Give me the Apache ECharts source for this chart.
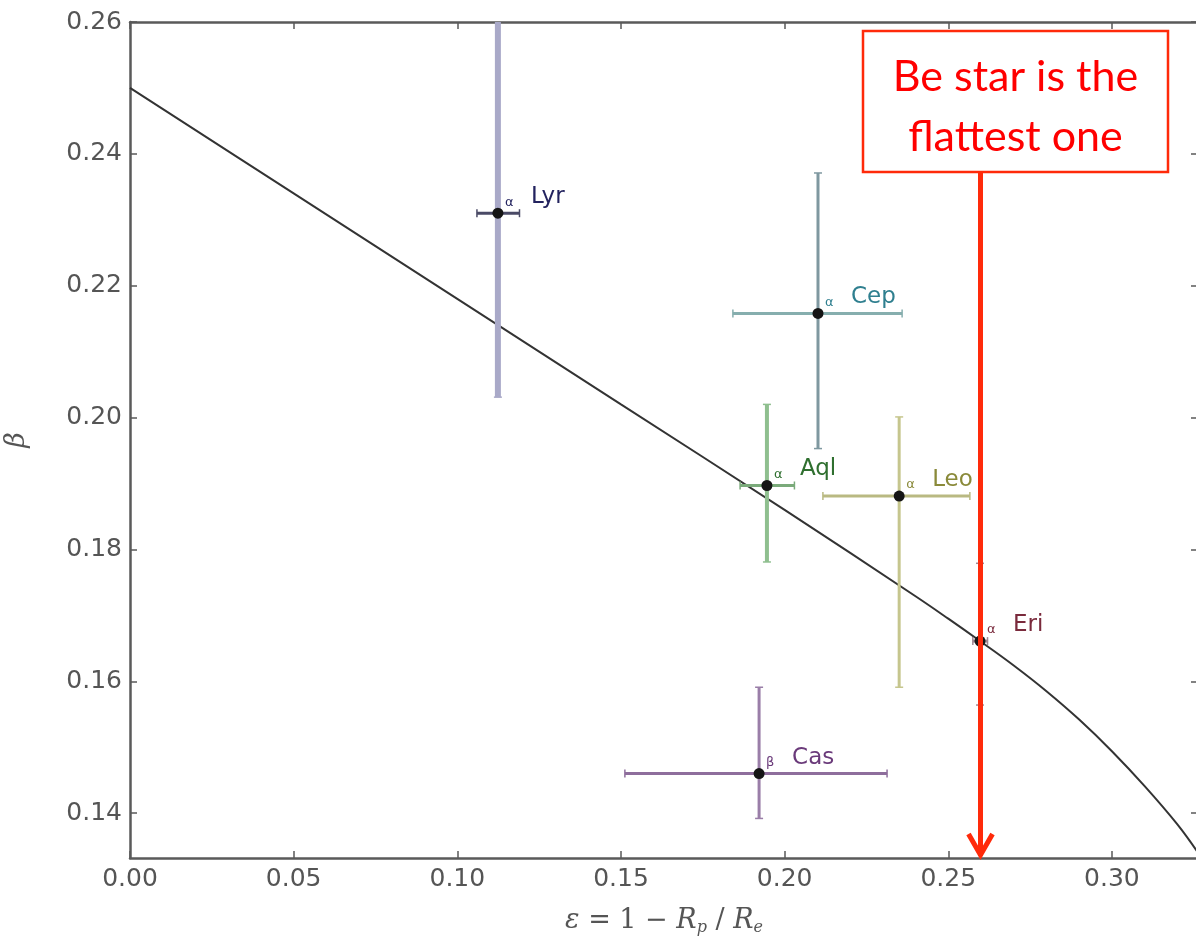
<!DOCTYPE html>
<html>
<head>
<meta charset="utf-8">
<script src="https://cdn.jsdelivr.net/npm/echarts@6/dist/echarts.min.js"></script>
<style>
  html, body { margin: 0; padding: 0; background: #fff; }
  #chart { width: 1196px; height: 940px; }
</style>
</head>
<body>
<div id="chart"></div>
<script>
// Gravity-darkening exponent β against flattening ε for interferometrically resolved rapid rotators
const stars    = ['Lyr', 'Cep', 'Aql', 'Leo', 'Eri', 'Cas'];
const greek    = ['α', 'α', 'α', 'α', 'α', 'β'];
const eps      = [0.1124, 0.2102, 0.1946, 0.2350, 0.2597, 0.1922];
const beta     = [0.2310, 0.2158, 0.1897, 0.1881, 0.1661, 0.1460];
const epsLow   = [0.1060, 0.1842, 0.1864, 0.2117, 0.2575, 0.1512];
const epsHigh  = [0.1190, 0.2359, 0.2030, 0.2566, 0.2620, 0.2313];
const betaLow  = [0.2031, 0.1953, 0.1781, 0.1591, 0.1564, 0.1392];
const betaHigh = [0.2650, 0.2371, 0.2020, 0.2001, 0.1779, 0.1591];

// Theoretical β(ε) relation
const curveEps  = [0.000, 0.050, 0.100, 0.150, 0.200, 0.240, 0.250, 0.260, 0.270, 0.280, 0.290, 0.300, 0.310, 0.320, 0.3263];
const curveBeta = [0.2500, 0.2340, 0.2180, 0.2020, 0.1860, 0.1729, 0.1695, 0.1660, 0.1624, 0.1585, 0.1542, 0.1494, 0.1441, 0.1383, 0.1340];

const xTicks = [0.00, 0.05, 0.10, 0.15, 0.20, 0.25, 0.30];
const yTicks = [0.14, 0.16, 0.18, 0.20, 0.22, 0.24, 0.26];

const calloutLines = ['Be star is the', 'flattest one'];
const calloutStar = 'Eri';

const X_MIN = 0, X_MAX = 0.3263, Y_MIN = 0.1332, Y_MAX = 0.26;

const vBarColor = ['#a9a9c8', '#7f98a0', '#8fbf8f', '#c6c68e', '#a08893', '#9a7ea8'];
const hBarColor = ['#4a4a66', '#86aeae', '#7aaa7a', '#b9b982', '#a08893', '#8e6e9c'];
const vBarWidth = [6, 3, 4, 3, 3, 3];
const labelColor = ['#23235f', '#2f7f8f', '#2f6f2f', '#8a8a3a', '#7a2a3c', '#6a3a7a'];

const axisColor = '#5a5a5a';
const tickFont = { fontFamily: 'DejaVu Sans', fontSize: 25, color: '#555' };

const chart = echarts.init(document.getElementById('chart'), null, { renderer: 'canvas' });

function frameAxis(kind, position, ticks, showLabels, extra) {
  const isX = kind === 'x';
  return Object.assign({
    type: 'value',
    position: position,
    min: isX ? X_MIN : Y_MIN,
    max: isX ? X_MAX : Y_MAX,
    axisLine: { show: true, onZero: false, lineStyle: { color: axisColor, width: 2.5 } },
    axisTick: { show: true, inside: true, length: 7, customValues: ticks,
                lineStyle: { color: axisColor, width: 1.5 } },
    axisLabel: { show: showLabels, customValues: ticks, margin: isX ? 9 : 8,
                 formatter: v => v.toFixed(2), ...tickFont },
    splitLine: { show: false }
  }, extra || {});
}

const serifRich = {
  i: { fontFamily: 'DejaVu Serif', fontStyle: 'italic', fontSize: 27, color: '#555' },
  n: { fontFamily: 'DejaVu Serif', fontSize: 27, color: '#555' },
  s: { fontFamily: 'DejaVu Serif', fontStyle: 'italic', fontSize: 16, color: '#555',
       padding: [14, 0, 0, 0] }
};

const starData = stars.map((s, i) => [eps[i], beta[i], epsLow[i], epsHigh[i], betaLow[i], betaHigh[i], i]);

function renderStar(params, api) {
  const i = api.value(6);
  const c  = api.coord([api.value(0), api.value(1)]);
  const xl = api.coord([api.value(2), api.value(1)]);
  const xh = api.coord([api.value(3), api.value(1)]);
  const yl = api.coord([api.value(0), api.value(4)]);
  const yh = api.coord([api.value(0), api.value(5)]);
  const cap = 4;
  const vStyle = { stroke: vBarColor[i], lineWidth: vBarWidth[i] };
  const hStyle = { stroke: hBarColor[i], lineWidth: 3 };
  const capV = { stroke: vBarColor[i], lineWidth: 1.5 };
  const capH = { stroke: hBarColor[i], lineWidth: 1.5 };
  return {
    type: 'group',
    children: [
      { type: 'line', shape: { x1: c[0], y1: yl[1], x2: c[0], y2: yh[1] }, style: vStyle },
      { type: 'line', shape: { x1: c[0] - cap, y1: yl[1], x2: c[0] + cap, y2: yl[1] }, style: capV },
      { type: 'line', shape: { x1: c[0] - cap, y1: yh[1], x2: c[0] + cap, y2: yh[1] }, style: capV },
      { type: 'line', shape: { x1: xl[0], y1: c[1], x2: xh[0], y2: c[1] }, style: hStyle },
      { type: 'line', shape: { x1: xl[0], y1: c[1] - cap, x2: xl[0], y2: c[1] + cap }, style: capH },
      { type: 'line', shape: { x1: xh[0], y1: c[1] - cap, x2: xh[0], y2: c[1] + cap }, style: capH },
      { type: 'circle', shape: { cx: c[0], cy: c[1], r: 5.5 }, style: { fill: '#151515' } },
      { type: 'text', x: c[0] + 7, y: c[1] - 11,
        style: { text: greek[i], fontFamily: 'DejaVu Sans', fontSize: 13, fill: labelColor[i],
                 align: 'left', verticalAlign: 'middle' } },
      { type: 'text', x: c[0] + 33, y: c[1] - 16,
        style: { text: stars[i], fontFamily: 'DejaVu Sans', fontSize: 23, fill: labelColor[i],
                 align: 'left', verticalAlign: 'middle' } }
    ]
  };
}

chart.setOption({
  animation: false,
  backgroundColor: '#ffffff',
  grid: { left: 130, top: 22, right: -2, bottom: 82, containLabel: false, outerBoundsMode: 'none' },
  xAxis: [
    frameAxis('x', 'bottom', xTicks, true, {
      name: '{i|ε}{n| = 1 − }{i|R}{s|p}{n| / }{i|R}{s|e}',
      nameLocation: 'middle', nameGap: 48,
      nameTextStyle: { rich: serifRich }
    }),
    frameAxis('x', 'top', xTicks, false)
  ],
  yAxis: [
    frameAxis('y', 'left', yTicks, true, {
      name: '{i|β}', nameLocation: 'middle', nameGap: 100, nameRotate: 90,
      nameTextStyle: { rich: serifRich }
    }),
    frameAxis('y', 'right', yTicks, false)
  ],
  series: [
    {
      type: 'line',
      data: curveEps.map((x, k) => [x, curveBeta[k]]),
      smooth: 0.4,
      showSymbol: false,
      clip: true,
      lineStyle: { color: '#333', width: 2 },
      z: 3
    },
    {
      type: 'custom',
      data: starData,
      renderItem: renderStar,
      clip: true,
      encode: { x: 0, y: 1 },
      z: 4
    }
  ]
});

// Callout box with an arrow dropping onto the flattest star
const target = stars.indexOf(calloutStar);
const arrowEnd = chart.convertToPixel({ gridIndex: 0 }, [eps[target], Y_MIN]);
const boxLeft = 863, boxTop = 31, boxW = 305, boxH = 141;
const red = '#ff2a0a';
const ax = Math.round(arrowEnd[0]) + 0.5;
chart.setOption({
  graphic: [
    { type: 'rect', shape: { x: boxLeft, y: boxTop, width: boxW, height: boxH },
      style: { fill: '#ffffff', stroke: red, lineWidth: 2.5 }, z: 100 },
    { type: 'text', x: boxLeft + boxW / 2, y: boxTop + 46,
      style: { text: calloutLines[0], fontFamily: 'Lato', fontSize: 43, fill: '#ff0000',
               align: 'center', verticalAlign: 'middle' }, z: 101 },
    { type: 'text', x: boxLeft + boxW / 2, y: boxTop + 106,
      style: { text: calloutLines[1], fontFamily: 'Lato', fontSize: 43, fill: '#ff0000',
               align: 'center', verticalAlign: 'middle' }, z: 101 },
    { type: 'line', shape: { x1: ax, y1: boxTop + boxH, x2: ax, y2: arrowEnd[1] - 2 },
      style: { stroke: red, lineWidth: 5 }, z: 100 },
    { type: 'polyline', shape: { points: [[ax - 12, arrowEnd[1] - 24], [ax, arrowEnd[1] - 3], [ax + 12, arrowEnd[1] - 24]] },
      style: { stroke: red, lineWidth: 5, fill: null, lineJoin: 'miter' }, z: 100 }
  ]
});
</script>
</body>
</html>
